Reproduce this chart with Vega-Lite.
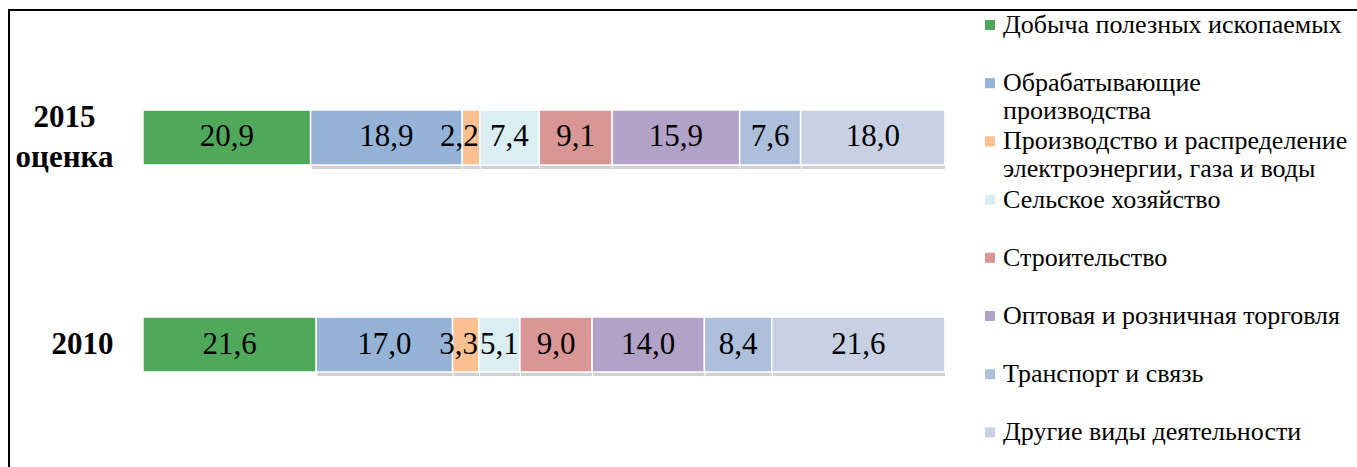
{
  "$schema": "https://vega.github.io/schema/vega-lite/v6.json",
  "width": 1353,
  "height": 462,
  "autosize": {"type": "none"},
  "padding": {"left": 9, "top": 10, "right": -5, "bottom": -5},
  "background": "white",
  "data": {
    "values": [
      {"year": "2015|оценка", "k": 1, "cat": "Добыча полезных ископаемых", "v": 20.9},
      {"year": "2015|оценка", "k": 2, "cat": "Обрабатывающие|производства", "v": 18.9},
      {"year": "2015|оценка", "k": 3, "cat": "Производство и распределение|электроэнергии, газа и воды", "v": 2.2},
      {"year": "2015|оценка", "k": 4, "cat": "Сельское хозяйство", "v": 7.4},
      {"year": "2015|оценка", "k": 5, "cat": "Строительство", "v": 9.1},
      {"year": "2015|оценка", "k": 6, "cat": "Оптовая и розничная торговля", "v": 15.9},
      {"year": "2015|оценка", "k": 7, "cat": "Транспорт и связь", "v": 7.6},
      {"year": "2015|оценка", "k": 8, "cat": "Другие виды деятельности", "v": 18.0},
      {"year": "2010", "k": 1, "cat": "Добыча полезных ископаемых", "v": 21.6},
      {"year": "2010", "k": 2, "cat": "Обрабатывающие|производства", "v": 17.0},
      {"year": "2010", "k": 3, "cat": "Производство и распределение|электроэнергии, газа и воды", "v": 3.3},
      {"year": "2010", "k": 4, "cat": "Сельское хозяйство", "v": 5.1},
      {"year": "2010", "k": 5, "cat": "Строительство", "v": 9.0},
      {"year": "2010", "k": 6, "cat": "Оптовая и розничная торговля", "v": 14.0},
      {"year": "2010", "k": 7, "cat": "Транспорт и связь", "v": 8.4},
      {"year": "2010", "k": 8, "cat": "Другие виды деятельности", "v": 21.6}
    ]
  },
  "encoding": {
    "y": {
      "field": "year",
      "type": "nominal",
      "sort": ["2015|оценка", "2010"],
      "scale": {"range": [100, 362], "paddingInner": 0.7343, "paddingOuter": 0},
      "axis": {
        "title": null,
        "domain": false,
        "ticks": false,
        "tickSize": 0,
        "labelFont": "Liberation Serif",
        "labelFontWeight": "bold",
        "labelFontSize": 31,
        "labelColor": "black",
        "labelLineHeight": 40,
        "labelAlign": "center",
        "labelBaseline": "middle",
        "labelLimit": 0,
        "labelPadding": -55,
        "labelExpr": "split(datum.label, '|')",
        "encoding": {
          "labels": {
            "dx": {"condition": {"test": "indexof(datum.label, '|') < 0", "value": 18}, "value": 0},
            "dy": {"condition": {"test": "indexof(datum.label, '|') < 0", "value": 0}, "value": -19}
          }
        }
      }
    }
  },
  "layer": [
    {
      "transform": [
        {"stack": "v", "groupby": ["year"], "sort": [{"field": "k", "order": "ascending"}], "as": ["x0", "x1"]},
        {"filter": "datum.k >= 2"}
      ],
      "mark": {"type": "bar", "fill": "#7a7a7a", "opacity": 0.35, "yOffset": 4, "xOffset": 1},
      "encoding": {
        "x": {
          "field": "x0",
          "type": "quantitative",
          "scale": {"domain": [-16.708, 152.0], "nice": false, "zero": false},
          "axis": null
        },
        "x2": {"field": "x1"}
      }
    },
    {
      "mark": {"type": "bar", "stroke": "white", "strokeWidth": 1.5},
      "encoding": {
        "x": {
          "field": "v",
          "type": "quantitative",
          "stack": "zero",
          "scale": {"domain": [-16.708, 152.0], "nice": false, "zero": false},
          "axis": null
        },
        "order": {"field": "k", "type": "quantitative"},
        "color": {
          "field": "cat",
          "type": "nominal",
          "scale": {
            "domain": [
              "Добыча полезных ископаемых",
              "Обрабатывающие|производства",
              "Производство и распределение|электроэнергии, газа и воды",
              "Сельское хозяйство",
              "Строительство",
              "Оптовая и розничная торговля",
              "Транспорт и связь",
              "Другие виды деятельности"
            ],
            "range": ["#50a85b", "#95b3d7", "#fac090", "#dbeef4", "#d99694", "#b3a2c7", "#adbfdb", "#c8d0e3"]
          },
          "legend": {
            "title": null,
            "orient": "none",
            "legendX": 968,
            "legendY": 2,
            "direction": "vertical",
            "columns": 1,
            "padding": 0,
            "gridAlign": "all",
            "rowPadding": 4.2,
            "symbolType": "square",
            "symbolSize": 100,
            "symbolStrokeWidth": 0,
            "symbolOpacity": 1,
            "labelFont": "Liberation Serif",
            "labelFontSize": 26,
            "labelColor": "black",
            "labelLimit": 0,
            "labelOffset": 0,
            "labelExpr": "split(datum.label, '|')"
          }
        }
      }
    },
    {
      "mark": {"type": "text", "font": "Liberation Serif", "fontSize": 31, "fill": "black", "align": "center", "baseline": "middle"},
      "encoding": {
        "x": {
          "field": "v",
          "type": "quantitative",
          "stack": "zero",
          "bandPosition": 0.5,
          "scale": {"domain": [-16.708, 152.0], "nice": false, "zero": false},
          "axis": null
        },
        "order": {"field": "k", "type": "quantitative"},
        "detail": {"field": "cat", "type": "nominal"},
        "text": {
          "condition": {"test": "datum.k == 3", "value": ""},
          "field": "v",
          "type": "quantitative",
          "format": ".1f"
        }
      }
    },
    {
      "transform": [
        {"stack": "v", "groupby": ["year"], "sort": [{"field": "k", "order": "ascending"}], "as": ["x0", "x1"]},
        {"filter": "datum.k == 3"}
      ],
      "mark": {"type": "text", "font": "Liberation Serif", "fontSize": 31, "fill": "black", "align": "right", "baseline": "middle", "dx": -1},
      "encoding": {
        "x": {
          "field": "x1",
          "type": "quantitative",
          "scale": {"domain": [-16.708, 152.0], "nice": false, "zero": false},
          "axis": null
        },
        "text": {"field": "v", "type": "quantitative", "format": ".1f"}
      }
    }
  ],
  "config": {
    "view": {"stroke": "black", "strokeWidth": 2},
    "font": "Liberation Serif",
    "locale": {"number": {"decimal": ",", "thousands": " ", "grouping": [3], "currency": ["", ""]}}
  }
}
